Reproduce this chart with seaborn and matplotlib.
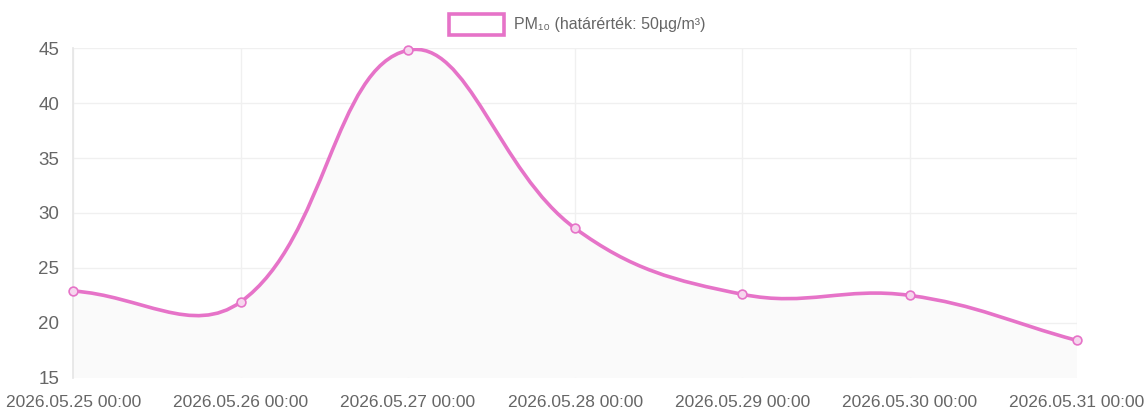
import numpy as np
import pandas as pd
import matplotlib
matplotlib.use("Agg")
import matplotlib.pyplot as plt
from matplotlib.path import Path
from matplotlib.patches import PathPatch, Rectangle
import seaborn as sns

# data
dates = ["2026.05.25 00:00", "2026.05.26 00:00", "2026.05.27 00:00", "2026.05.28 00:00",
         "2026.05.29 00:00", "2026.05.30 00:00", "2026.05.31 00:00"]
pm10 = [22.9, 21.9, 44.8, 28.6, 22.6, 22.5, 18.4]
y_ticks = [15, 20, 25, 30, 35, 40, 45]
legend_label = "PM₁₀ (határérték: 50µg/m³)"

line_color = "#e673c8"
text_color = "#666666"
grid_color = "#f0f0f0"


def bezier_controls(px, py, tension=0.4):
    """Chart.js style spline control points, computed in pixel space."""
    n = len(px)
    ctrl = []
    for i in range(n):
        prev = (px[max(i - 1, 0)], py[max(i - 1, 0)])
        cur = (px[i], py[i])
        nxt = (px[min(i + 1, n - 1)], py[min(i + 1, n - 1)])
        d01 = np.hypot(cur[0] - prev[0], cur[1] - prev[1])
        d12 = np.hypot(nxt[0] - cur[0], nxt[1] - cur[1])
        tot = d01 + d12
        s01 = d01 / tot if tot else 0
        s12 = d12 / tot if tot else 0
        fa, fb = tension * s01, tension * s12
        c_prev = (cur[0] - fa * (nxt[0] - prev[0]), cur[1] - fa * (nxt[1] - prev[1]))
        c_next = (cur[0] + fb * (nxt[0] - prev[0]), cur[1] + fb * (nxt[1] - prev[1]))
        ctrl.append((c_prev, c_next))
    return ctrl


sns.set_theme(style="white")
plt.rcParams['font.family'] = ['Liberation Sans', 'DejaVu Sans']

df = pd.DataFrame({"date": dates, "value": pm10, "x": np.arange(len(dates))})

fig, ax = plt.subplots(figsize=(11.44, 4.18), dpi=100)
fig.subplots_adjust(left=0.064, right=0.9415, top=0.885, bottom=0.096)

ax.set_xlim(0, len(dates) - 1)
ax.set_ylim(15, 45)

# build the smooth curve in display space, then map back to data coords
fig.canvas.draw()
disp = ax.transData.transform(np.column_stack([df["x"], df["value"]]))
ctrl = bezier_controls(disp[:, 0], disp[:, 1])
verts = [tuple(disp[0])]
codes = [Path.MOVETO]
for i in range(1, len(disp)):
    verts += [ctrl[i - 1][1], ctrl[i][0], tuple(disp[i])]
    codes += [Path.CURVE4] * 3
inv = ax.transData.inverted()
verts_data = inv.transform(np.array(verts))

# fill below curve
fill_verts = list(map(tuple, verts_data)) + [(df["x"].iloc[-1], 15), (df["x"].iloc[0], 15), tuple(verts_data[0])]
fill_codes = codes + [Path.LINETO, Path.LINETO, Path.CLOSEPOLY]
ax.add_patch(PathPatch(Path(fill_verts, fill_codes), facecolor="#fafafa", edgecolor="none", zorder=1))
ax.add_patch(PathPatch(Path(verts_data, codes), facecolor="none", edgecolor=line_color,
                       lw=2.6, zorder=3, capstyle="round", joinstyle="round"))

sns.scatterplot(data=df, x="x", y="value", ax=ax, s=40, marker="o", clip_on=False,
                facecolor="#f6d6ee", edgecolor=line_color, linewidth=1.2, zorder=4, legend=False)

ax.set_xticks(df["x"])
ax.set_xticklabels(dates)
ax.set_yticks(y_ticks)
ax.tick_params(axis="both", length=0, colors=text_color)
ax.tick_params(axis="x", pad=12, labelsize=12.5)
ax.tick_params(axis="y", pad=10, labelsize=13.5)
ax.grid(True, color=grid_color, lw=1)
for s in ["top", "right", "bottom"]:
    ax.spines[s].set_visible(False)
ax.spines["left"].set_color("#e6e6e6")
ax.set_xlabel("")
ax.set_ylabel("")

# legend box like chart.js
fig.patches.append(Rectangle((449 / 1144, 1 - 35 / 418), 55 / 1144, 21 / 418,
                             transform=fig.transFigure, facecolor="white",
                             edgecolor=line_color, lw=2.6))
fig.text(514 / 1144, 1 - 24 / 418, legend_label, fontsize=11.5, color=text_color, va="center", ha="left")

fig.savefig("out.png", dpi=100)
